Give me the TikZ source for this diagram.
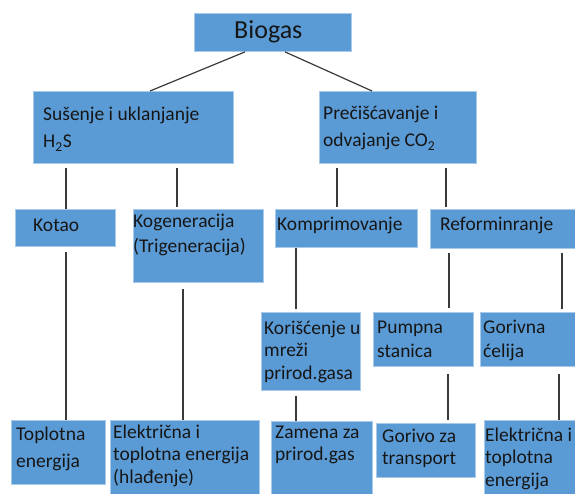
\documentclass[tikz,border=0pt]{standalone}
\usepackage{fontspec}
\setmainfont{Carlito}
\usetikzlibrary{calc}
\definecolor{boxblue}{HTML}{5B9BD5}
\definecolor{boxedge}{HTML}{A9C9EA}
\definecolor{txtcol}{HTML}{161616}
\definecolor{linkcol}{HTML}{3A3A3A}
\newcommand\tlines[2]{\vtop{\baselineskip=#1pt\lineskiplimit=-100pt #2}}
\tikzset{
  box/.style={draw=boxedge, line width=0.9pt, fill=boxblue, inner sep=0pt, anchor=north west},
  txt/.style={inner sep=0pt, anchor=base west, text=txtcol, font=\fontsize{19.5}{23}\selectfont},
  link/.style={draw=linkcol, line width=1.2pt}
}
\begin{document}
\begin{tikzpicture}[x=1pt,y=-1pt]
\useasboundingbox (0,0) rectangle (575,494);
% boxes
\node[box, minimum width=157, minimum height=38] (bio) at (194,13) {};
\node[box, minimum width=200, minimum height=72] (sus) at (33,91) {};
\node[box, minimum width=157, minimum height=72] (pre) at (319,91) {};
\node[box, minimum width=100, minimum height=37] (kot) at (15,209) {};
\node[box, minimum width=130, minimum height=73] (kog) at (133,209) {};
\node[box, minimum width=142, minimum height=38] (kom) at (275,209) {};
\node[box, minimum width=147, minimum height=39] (ref) at (430,209) {};
\node[box, minimum width=99, minimum height=78] (kor) at (261,312) {};
\node[box, minimum width=100, minimum height=54] (pum) at (373,312) {};
\node[box, minimum width=97, minimum height=54] (gor) at (480,312) {};
\node[box, minimum width=94, minimum height=64] (top) at (11,420) {};
\node[box, minimum width=149, minimum height=76] (ele) at (110,420) {};
\node[box, minimum width=101, minimum height=75] (zam) at (271,421) {};
\node[box, minimum width=99, minimum height=54] (gtr) at (376,423) {};
\node[box, minimum width=93, minimum height=76] (el2) at (484,420) {};
% texts
\node[txt, font=\fontsize{26}{30}\selectfont] (bioT) at (234,39) {Biogas};
\node[txt] (susT) at (43,121) {\tlines{27}{\hbox{Sušenje i uklanjanje}\hbox{H\textsubscript{2}S}}};
\node[txt] (preT) at (323,120) {\tlines{27}{\hbox{Prečišćavanje i}\hbox{odvajanje CO\textsubscript{2}}}};
\node[txt] (kotT) at (33,232) {Kotao};
\node[txt] (kogT) at (133,228) {\tlines{25}{\hbox{Kogeneracija}\hbox{(Trigeneracija)}}};
\node[txt] (komT) at (277,231) {Komprimovanje};
\node[txt] (refT) at (440,231) {Reforminranje};
\node[txt] (korT) at (264,334) {\tlines{22.5}{\hbox{Korišćenje u}\hbox{mreži}\hbox{prirod.gasa}}};
\node[txt] (pumT) at (377,333) {\tlines{24}{\hbox{Pumpna}\hbox{stanica}}};
\node[txt] (gorT) at (483,333) {\tlines{24}{\hbox{Gorivna}\hbox{ćelija}}};
\node[txt] (topT) at (16,440) {\tlines{27}{\hbox{Toplotna}\hbox{energija}}};
\node[txt] (eleT) at (113,438) {\tlines{22.5}{\hbox{Električna i}\hbox{toplotna energija}\hbox{(hlađenje)}}};
\node[txt] (zamT) at (275,438) {\tlines{22}{\hbox{Zamena za}\hbox{prirod.gas}}};
\node[txt] (gtrT) at (382,442) {\tlines{22}{\hbox{Gorivo za}\hbox{transport}}};
\node[txt] (el2T) at (485,441) {\tlines{22.5}{\hbox{Električna i}\hbox{toplotna}\hbox{energija}}};
% connectors
\draw[link] ($(bio.south west)+(51,0)$) -- ($(sus.north west)+(117,0)$);
\draw[link] ($(bio.south west)+(91,0)$) -- ($(pre.north west)+(53,0)$);
\draw[link] ($(sus.south west)+(33,4)$) -- ($(kot.north west)+(51,0)$);
\draw[link] ($(sus.south west)+(144,4)$) -- ($(kog.north west)+(44,-2)$);
\draw[link] ($(pre.south west)+(18,4)$) -- ($(kom.north west)+(62,-2)$);
\draw[link] ($(pre.south west)+(127,4)$) -- ($(ref.north west)+(16,-2)$);
\draw[link] ($(kot.south west)+(51,5)$) -- ($(top.north west)+(55,0)$);
\draw[link] ($(kog.south west)+(50,6)$) -- ($(ele.north west)+(73,0)$);
\draw[link] ($(kom.south west)+(21,0)$) -- ($(kor.north west)+(35,-3)$);
\draw[link] ($(kor.south west)+(35,5)$) -- ($(zam.north west)+(25,0)$);
\draw[link] ($(ref.south west)+(19,4)$) -- ($(pum.north west)+(76,-4)$);
\draw[link] ($(ref.south west)+(132,4)$) -- ($(gor.north west)+(82,-3)$);
\draw[link] ($(pum.south west)+(75,7)$) -- ($(gtr.north west)+(72,-3)$);
\draw[link] ($(gor.south west)+(79,7)$) -- ($(el2.north west)+(75,0)$);
\end{tikzpicture}
\end{document}
